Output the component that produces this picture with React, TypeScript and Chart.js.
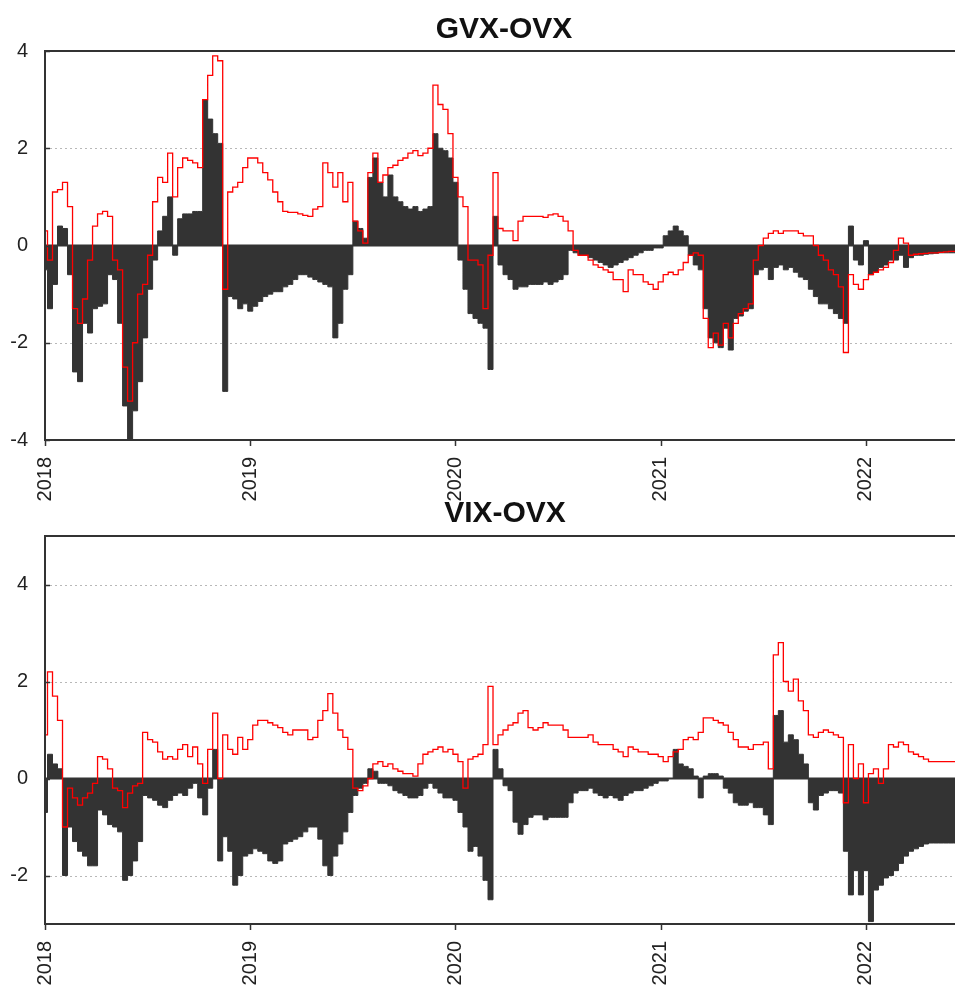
import React, { useEffect, useRef } from "react";
import { Chart, registerables } from "chart.js";

Chart.register(...registerables);

// Sampling grid: one value every STEP years starting at START_YEAR
const START_YEAR = 2018;
const STEP = 1 / 41;
const X_MAX = 2022.434;
const YEAR_TICKS = [2018, 2019, 2020, 2021, 2022];

const GVX_TICKS = [-4, -2, 0, 2, 4];
const VIX_TICKS = [-2, 0, 2, 4];

// GVX-OVX
const gvxBars = [
  -0.5, -1.3, -0.8, 0.4, 0.35, -0.6, -2.6, -2.8, -1.6, -1.8,
  -1.3, -1.25, -1.2, -0.6, -0.7, -1.6, -3.3, -4.0, -3.4, -2.8,
  -1.9, -0.9, -0.3, 0.3, 0.6, 1.0, -0.2, 0.55, 0.65, 0.65,
  0.7, 0.7, 3.0, 2.6, 2.3, 2.1, -3.0, -1.05, -1.1, -1.3,
  -1.2, -1.35, -1.25, -1.15, -1.05, -1.0, -0.95, -0.95, -0.85, -0.8,
  -0.7, -0.6, -0.6, -0.65, -0.7, -0.75, -0.8, -0.85, -1.9, -1.6,
  -0.9, -0.6, 0.5, 0.35, 0.15, 1.4, 1.8, 1.3, 1.0, 1.45,
  1.0, 0.9, 0.8, 0.75, 0.8, 0.7, 0.75, 0.8, 2.3, 2.0,
  1.95, 1.8, 1.3, -0.3, -0.9, -1.4, -1.5, -1.6, -1.7, -2.55,
  0.6, -0.4, -0.6, -0.7, -0.9, -0.85, -0.85, -0.8, -0.8, -0.8,
  -0.75, -0.8, -0.75, -0.7, -0.6, -0.1, -0.15, -0.2, -0.2, -0.25,
  -0.3, -0.35, -0.4, -0.45, -0.4, -0.35, -0.3, -0.25, -0.2, -0.15,
  -0.1, -0.1, -0.05, -0.05, 0.2, 0.3, 0.4, 0.3, 0.2, -0.2,
  -0.4, -0.5, -1.3, -1.9, -2.0, -2.1, -1.7, -2.15, -1.5, -1.45,
  -1.35, -1.3, -0.6, -0.5, -0.45, -0.7, -0.45, -0.4, -0.5, -0.45,
  -0.55, -0.65, -0.7, -0.9, -1.05, -1.2, -1.2, -1.3, -1.4, -1.5,
  -1.6, 0.4, -0.3, -0.4, 0.1, -0.6, -0.55, -0.45, -0.4, -0.3,
  -0.3, -0.2, -0.45, -0.25, -0.2, -0.2, -0.18, -0.17, -0.16, -0.15,
  -0.15, -0.15, -0.15,
];

const gvxLine = [
  0.3, -0.3, 1.1, 1.15, 1.3, 0.8, -1.3, -1.6, -1.1, -0.3,
  0.4, 0.65, 0.7, 0.6, -0.3, -0.5, -2.5, -3.2, -2.0, -1.0,
  -0.8, -0.2, 0.9, 1.4, 1.3, 1.9, 1.0, 1.6, 1.8, 1.75,
  1.7, 1.6, 3.0, 3.5, 3.9, 3.8, -0.9, 1.1, 1.2, 1.3,
  1.6, 1.8, 1.8, 1.7, 1.5, 1.35, 1.1, 0.9, 0.7, 0.68,
  0.68, 0.65, 0.62, 0.6, 0.75, 0.8, 1.7, 1.5, 1.2, 1.5,
  0.9, 1.3, 0.5, 0.3, 0.05, 1.5, 1.9, 1.3, 1.45, 1.6,
  1.65, 1.75, 1.8, 1.9, 1.95, 1.85, 1.9, 2.0, 3.3, 2.9,
  2.8, 2.3, 1.4, 1.0, 0.8, -0.3, -0.3, -0.4, -1.3, -0.2,
  1.5, 0.35, 0.3, 0.3, 0.1, 0.5, 0.6, 0.6, 0.6, 0.6,
  0.58, 0.63, 0.65, 0.6, 0.5, 0.3, -0.1, -0.2, -0.2, -0.3,
  -0.4, -0.45, -0.5, -0.55, -0.7, -0.7, -0.95, -0.5, -0.6, -0.6,
  -0.75, -0.8, -0.9, -0.75, -0.6, -0.55, -0.6, -0.5, -0.35, -0.2,
  -0.15, -0.2, -1.5, -2.1, -1.8, -2.05, -1.6, -1.9, -1.6, -1.4,
  -1.3, -1.2, -0.3, 0.0, 0.15, 0.25, 0.3, 0.25, 0.3, 0.3,
  0.3, 0.25, 0.2, 0.2, 0.0, -0.2, -0.3, -0.5, -0.6, -0.85,
  -2.2, -0.6, -0.8, -0.9, -0.7, -0.6, -0.55, -0.5, -0.45, -0.35,
  -0.1, 0.15, 0.05, -0.2, -0.18, -0.17, -0.16, -0.15, -0.15, -0.14,
  -0.13, -0.12, -0.12,
];

// VIX-OVX
const vixBars = [
  -0.7, 0.5, 0.3, 0.2, -2.0, -1.0, -1.3, -1.5, -1.6, -1.8,
  -1.8, -0.65, -0.75, -0.95, -1.0, -1.1, -2.1, -2.0, -1.7, -1.3,
  -0.35, -0.4, -0.45, -0.55, -0.6, -0.45, -0.35, -0.3, -0.35, -0.2,
  -0.1, -0.4, -0.75, -0.2, 0.6, -1.7, -1.2, -1.5, -2.2, -2.0,
  -1.6, -1.55, -1.45, -1.5, -1.55, -1.7, -1.75, -1.7, -1.35, -1.3,
  -1.25, -1.2, -1.1, -1.0, -1.0, -1.25, -1.8, -2.0, -1.6, -1.35,
  -1.1, -0.7, -0.35, -0.2, -0.1, 0.2, 0.15, -0.1, -0.1, -0.15,
  -0.25, -0.3, -0.35, -0.4, -0.4, -0.35, -0.2, -0.1, -0.2, -0.3,
  -0.4, -0.4, -0.45, -0.7, -1.0, -1.5, -1.4, -1.6, -2.1, -2.5,
  0.6, 0.2, -0.15, -0.25, -0.9, -1.15, -0.95, -0.8, -0.75, -0.75,
  -0.85, -0.8, -0.8, -0.8, -0.8, -0.5, -0.3, -0.25, -0.25, -0.2,
  -0.3, -0.35, -0.4, -0.35, -0.4, -0.45, -0.35, -0.3, -0.25, -0.25,
  -0.2, -0.15, -0.1, -0.05, -0.05, 0.0, 0.6, 0.3, 0.25, 0.2,
  0.05, -0.4, 0.05, 0.1, 0.1, 0.05, -0.2, -0.3, -0.5, -0.55,
  -0.55, -0.5, -0.6, -0.6, -0.75, -0.95, 1.3, 1.4, 0.75, 0.9,
  0.8, 0.5, 0.3, -0.5, -0.65, -0.35, -0.3, -0.25, -0.25, -0.3,
  -1.5, -2.4, -1.9, -2.4, -1.9, -2.95, -2.3, -2.2, -2.05, -2.0,
  -1.9, -1.75, -1.6, -1.5, -1.45, -1.4, -1.35, -1.33, -1.33, -1.33,
  -1.33, -1.33, -1.33,
];

const vixLine = [
  0.9, 2.2, 1.7, 1.2, -1.0, -0.2, -0.4, -0.55, -0.4, -0.3,
  -0.1, 0.45, 0.4, 0.2, -0.2, -0.25, -0.6, -0.3, -0.15, -0.1,
  0.95, 0.8, 0.75, 0.55, 0.4, 0.45, 0.4, 0.6, 0.7, 0.45,
  0.65, 0.3, -0.1, 0.6, 1.35, 0.0, 0.9, 0.6, 0.5, 0.85,
  0.6, 0.8, 1.1, 1.2, 1.2, 1.15, 1.1, 1.05, 0.95, 0.9,
  1.0, 1.0, 1.0, 0.8, 0.85, 1.2, 1.4, 1.75, 1.35, 1.0,
  0.85, 0.6, -0.2, -0.25, -0.15, 0.0, 0.3, 0.35, 0.25, 0.3,
  0.2, 0.15, 0.1, 0.1, 0.05, 0.3, 0.5, 0.55, 0.6, 0.65,
  0.55, 0.6, 0.5, 0.35, -0.2, 0.4, 0.45, 0.5, 0.7, 1.9,
  0.7, 0.9, 1.0, 1.1, 1.15, 1.35, 1.4, 1.05, 1.0, 1.05,
  1.15, 1.1, 1.1, 1.1, 1.0, 0.85, 0.85, 0.85, 0.85, 0.9,
  0.75, 0.7, 0.7, 0.7, 0.6, 0.55, 0.45, 0.65, 0.6, 0.55,
  0.55, 0.5, 0.5, 0.45, 0.35, 0.45, 0.55, 0.6, 0.8, 0.85,
  0.8, 0.95, 1.25, 1.25, 1.2, 1.15, 1.1, 0.95, 0.8, 0.65,
  0.65, 0.6, 0.7, 0.7, 0.75, 0.2, 2.55, 2.8, 2.0, 1.8,
  2.05, 1.6, 1.4, 0.9, 0.85, 0.95, 1.0, 0.95, 0.9, 0.85,
  -0.5, 0.7, 0.0, 0.3, -0.5, 0.1, 0.2, -0.1, 0.2, 0.7,
  0.65, 0.75, 0.7, 0.55, 0.5, 0.45, 0.4, 0.35, 0.35, 0.35,
  0.35, 0.35, 0.35,
];

const FONT = "'Liberation Sans', Arial, Helvetica, sans-serif";
const TEXT = "#222222";
const DARK = "#333333";

type PanelProps = {
  title: string;
  bars: number[];
  line: number[];
  yMin: number;
  yMax: number;
  yTicks: number[];
  top: number;
  height: number;
  padTop: number;
  xHeight: number;
  titleX: number;
  titleY: number;
};

function toPoints(values: number[]) {
  return values.map((v, i) => ({ x: START_YEAR + i * STEP, y: v }));
}

function makeFramePlugin(title: string, titleX: number, titleY: number) {
  return {
    id: "frame",
    beforeDatasetsDraw(chart: any) {
      const { ctx, chartArea: a, scales } = chart;
      const y = scales.y;
      ctx.save();
      ctx.strokeStyle = "#b8b8b8";
      ctx.lineWidth = 1;
      ctx.setLineDash([2, 3]);
      for (const t of y.ticks) {
        if (t.value === 0) continue;
        const py = Math.round(y.getPixelForValue(t.value)) + 0.5;
        if (py <= a.top + 2 || py >= a.bottom - 2) continue;
        ctx.beginPath();
        ctx.moveTo(a.left, py);
        ctx.lineTo(a.right, py);
        ctx.stroke();
      }
      ctx.restore();
    },
    afterDatasetDraw(chart: any, args: any) {
      if (args.index !== 1) return;
      const { ctx, chartArea: a, scales } = chart;
      const py = scales.y.getPixelForValue(0);
      ctx.save();
      ctx.strokeStyle = DARK;
      ctx.lineWidth = 2;
      ctx.beginPath();
      ctx.moveTo(a.left, py);
      ctx.lineTo(a.right, py);
      ctx.stroke();
      ctx.restore();
    },
    afterDraw(chart: any) {
      const { ctx, chartArea: a, scales } = chart;
      ctx.save();
      ctx.strokeStyle = DARK;
      ctx.lineWidth = 2;
      ctx.beginPath();
      ctx.moveTo(a.right + 2, a.top);
      ctx.lineTo(a.left, a.top);
      ctx.lineTo(a.left, a.bottom);
      ctx.lineTo(a.right + 2, a.bottom);
      ctx.stroke();
      // x tick marks (outward)
      ctx.lineWidth = 1.5;
      for (const t of scales.x.ticks) {
        const px = Math.round(scales.x.getPixelForValue(t.value)) + 0.5;
        ctx.beginPath();
        ctx.moveTo(px, a.bottom);
        ctx.lineTo(px, a.bottom + 6);
        ctx.stroke();
      }
      // y tick marks (inward)
      for (const t of scales.y.ticks) {
        const py = Math.round(scales.y.getPixelForValue(t.value)) + 0.5;
        ctx.beginPath();
        ctx.moveTo(a.left, py);
        ctx.lineTo(a.left + 5, py);
        ctx.stroke();
      }
      // title
      ctx.fillStyle = "#111111";
      ctx.font = `bold 30px ${FONT}`;
      ctx.textAlign = "center";
      ctx.textBaseline = "middle";
      ctx.fillText(title, titleX, titleY);
      ctx.restore();
    },
  };
}

function Panel(p: PanelProps) {
  const ref = useRef<HTMLCanvasElement | null>(null);
  useEffect(() => {
    if (!ref.current) return;
    const chart = new Chart(ref.current, {
      type: "line",
      data: {
        datasets: [
          {
            data: toPoints(p.line),
            borderColor: "#ff0000",
            borderWidth: 1.3,
            pointRadius: 0,
            stepped: "middle",
            fill: false,
          },
          {
            data: toPoints(p.bars),
            borderColor: DARK,
            backgroundColor: DARK,
            borderWidth: 1,
            pointRadius: 0,
            stepped: "middle",
            fill: "origin",
          },
        ],
      } as any,
      options: {
        responsive: false,
        animation: false,
        devicePixelRatio: 1,
        layout: { padding: { top: p.padTop, left: 0, right: 0, bottom: 0 } },
        plugins: {
          legend: { display: false },
          tooltip: { enabled: false },
          title: { display: false },
        },
        scales: {
          x: {
            type: "linear",
            min: START_YEAR,
            max: X_MAX,
            afterBuildTicks: (s: any) => {
              s.ticks = YEAR_TICKS.map((v) => ({ value: v }));
            },
            afterFit: (s: any) => {
              s.height = p.xHeight;
            },
            grid: { display: false, drawTicks: false },
            border: { display: false },
            ticks: {
              autoSkip: false,
              minRotation: 90,
              maxRotation: 90,
              padding: 17,
              color: TEXT,
              font: { family: FONT, size: 20 },
              callback: (v: any) => String(v),
            },
          },
          y: {
            type: "linear",
            min: p.yMin,
            max: p.yMax,
            afterBuildTicks: (s: any) => {
              s.ticks = p.yTicks.map((v) => ({ value: v }));
            },
            afterFit: (s: any) => {
              s.width = 45;
            },
            grid: { display: false, drawTicks: false },
            border: { display: false },
            ticks: {
              autoSkip: false,
              padding: 17,
              color: TEXT,
              font: { family: FONT, size: 20 },
              callback: (v: any) => String(v),
            },
          },
        },
      } as any,
      plugins: [makeFramePlugin(p.title, p.titleX, p.titleY)],
    });
    return () => chart.destroy();
  }, []);
  return (
    <canvas
      ref={ref}
      width={955}
      height={p.height}
      style={{ position: "absolute", left: 0, top: p.top, display: "block" }}
    />
  );
}

export default function App() {
  return (
    <div
      style={{
        position: "absolute",
        left: 0,
        top: 0,
        width: 955,
        height: 986,
        background: "#ffffff",
        overflow: "hidden",
      }}
    >
      <Panel
        title="GVX-OVX"
        bars={gvxBars}
        line={gvxLine}
        yMin={-4}
        yMax={4}
        yTicks={GVX_TICKS}
        top={0}
        height={505}
        padTop={51}
        xHeight={65}
        titleX={504}
        titleY={30}
      />
      <Panel
        title="VIX-OVX"
        bars={vixBars}
        line={vixLine}
        yMin={-3}
        yMax={5}
        yTicks={VIX_TICKS}
        top={480}
        height={506}
        padTop={56}
        xHeight={62}
        titleX={505}
        titleY={34}
      />
    </div>
  );
}
